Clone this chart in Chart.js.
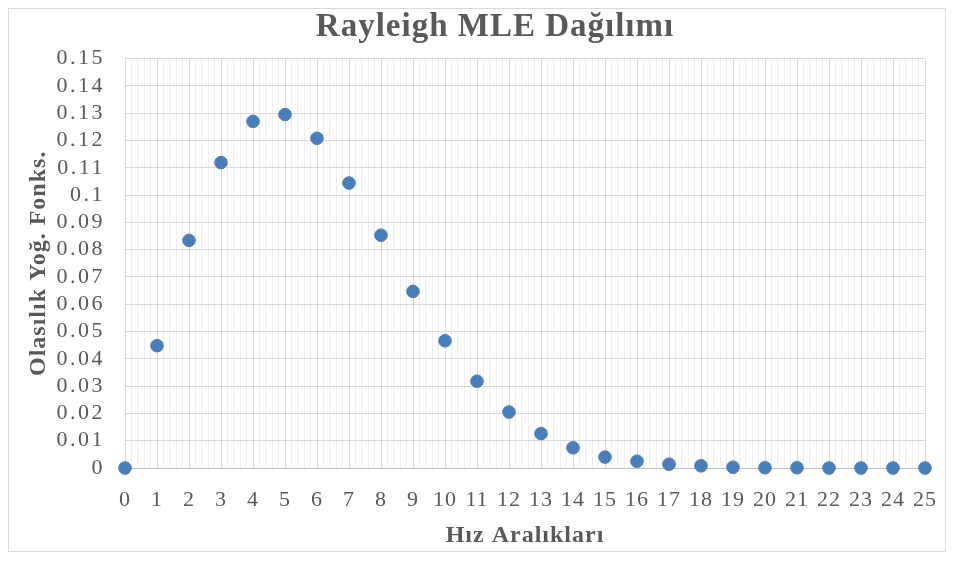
<!DOCTYPE html>
<html>
<head>
<meta charset="utf-8">
<script src="https://cdn.jsdelivr.net/npm/chart.js@4/dist/chart.umd.min.js"></script>
<style>
  html, body { margin: 0; padding: 0; background: #ffffff; }
  #wrap { position: relative; width: 956px; height: 561px; }
  #frame { position: absolute; left: 8px; top: 8px; width: 938px; height: 544px; border: 1px solid #d9d9d9; box-sizing: border-box; pointer-events: none; }
  canvas { position: absolute; left: 0; top: 0; }
</style>
</head>
<body>
<div id="wrap">
  <canvas id="c" width="956" height="561"></canvas>
  <div id="frame"></div>
</div>
<script>
// ---- data ----
const chartTitle = "Rayleigh MLE Dağılımı";
const xAxisTitle = "Hız Aralıkları";
const yAxisTitle = "Olasılık Yoğ. Fonks.";
const speedBins = [0, 1, 2, 3, 4, 5, 6, 7, 8, 9, 10, 11, 12, 13, 14, 15, 16, 17, 18, 19, 20, 21, 22, 23, 24, 25];
const pdfValues = [0, 0.0448, 0.0834, 0.1119, 0.1270, 0.1295, 0.1208, 0.1044, 0.0853, 0.0647, 0.0466, 0.0318, 0.0205, 0.0126, 0.0074, 0.0040, 0.0025, 0.0014, 0.0008, 0.0003, 0.0001, 0.0001, 0, 0, 0, 0];
const yTickLabels = ["0", "0.01", "0.02", "0.03", "0.04", "0.05", "0.06", "0.07", "0.08", "0.09", "0.1", "0.11", "0.12", "0.13", "0.14", "0.15"];
const xTickLabels = ["0","1","2","3","4","5","6","7","8","9","10","11","12","13","14","15","16","17","18","19","20","21","22","23","24","25"];

const points = speedBins.map((x, i) => ({ x: x, y: pdfValues[i] }));
const serif = "'Liberation Serif', 'Times New Roman', serif";
const textColor = "#595959";

const spacingPlugin = {
  id: "spacing",
  beforeDraw(chart) { chart.ctx.letterSpacing = "1px"; }
};

function widenYLabels(s) {
  s.width = 91;
  if (!s._wideLabels) {
    s._wideLabels = true;
    const orig = s.drawLabels.bind(s);
    s.drawLabels = function (area) {
      const ctx = this.ctx;
      const prev = ctx.letterSpacing;
      ctx.letterSpacing = "2.5px";
      orig(area);
      ctx.letterSpacing = prev;
    };
  }
}

new Chart(document.getElementById("c"), {
  type: "scatter",
  data: {
    datasets: [{
      data: points,
      backgroundColor: "#4a7ebb",
      borderColor: "#4a7ebb",
      pointRadius: 6.3,
      pointHoverRadius: 6.3,
      clip: false
    }]
  },
  plugins: [spacingPlugin],
  options: {
    responsive: false,
    animation: false,
    events: [],
    layout: { padding: { left: 34, right: 0, top: 0, bottom: 0 } },
    plugins: {
      legend: { display: false },
      tooltip: { enabled: false },
      title: {
        display: true,
        text: chartTitle,
        color: textColor,
        font: { family: serif, size: 33, weight: "bold" },
        padding: { top: 8, bottom: 11 }
      }
    },
    scales: {
      xMinor: {
        type: "linear",
        position: "top",
        min: 0, max: 25,
        z: -1,
        ticks: { display: false, stepSize: 0.2 },
        grid: { color: "#eeeeee", drawTicks: false, lineWidth: 1 },
        border: { display: false },
        afterFit: (s) => { s.height = 0; }
      },
      x: {
        type: "linear",
        position: "bottom",
        min: 0, max: 25,
        ticks: {
          stepSize: 1,
          color: textColor,
          font: { family: serif, size: 22 },
          padding: 19,
          maxRotation: 0,
          autoSkip: false,
          callback: (v) => xTickLabels[Math.round(v)]
        },
        grid: { color: "#d9d9d9", drawTicks: false },
        border: { color: "#bfbfbf" },
        title: {
          display: true,
          text: xAxisTitle,
          color: textColor,
          font: { family: serif, size: 24, weight: "bold" },
          padding: { top: 0, bottom: 11 }
        },
        afterFit: (s) => { s.height = 93; }
      },
      y: {
        type: "linear",
        position: "left",
        min: 0, max: 0.15,
        ticks: {
          stepSize: 0.01,
          color: textColor,
          font: { family: serif, size: 22 },
          padding: 20,
          autoSkip: false,
          callback: (v) => yTickLabels[Math.round(v * 100)]
        },
        grid: { color: "#d9d9d9", drawTicks: false },
        border: { color: "#d9d9d9" },
        title: {
          display: true,
          text: yAxisTitle,
          color: textColor,
          font: { family: serif, size: 24, weight: "bold" },
          padding: { top: -9.4, bottom: 0 }
        },
        afterFit: widenYLabels
      },
      yRightSpacer: {
        type: "linear",
        position: "right",
        min: 0, max: 0.15,
        ticks: { display: false },
        grid: { display: false, drawTicks: false },
        border: { display: false },
        afterFit: (s) => { s.width = 31; }
      }
    }
  }
});
</script>
</body>
</html>
